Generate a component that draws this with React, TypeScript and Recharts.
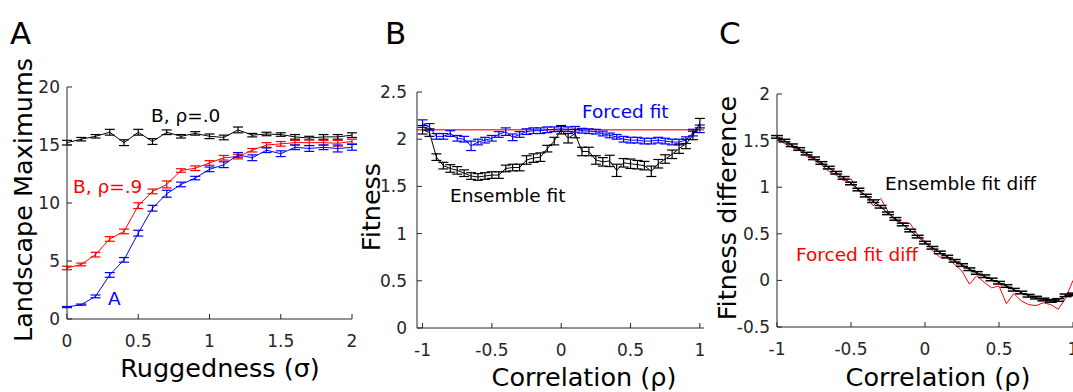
import React from 'react';
import { ComposedChart, Line, XAxis, YAxis, ErrorBar, ReferenceLine } from 'recharts';

const FONT = '"DejaVu Sans", Verdana, sans-serif';
const AXIS = '#262626';
const BLUE = '#0000ff';
const RED = '#ff0000';
const BLACK = '#000000';

// ---------- Panel A ----------
const sigma = [0, 0.1, 0.2, 0.3, 0.4, 0.5, 0.6, 0.7, 0.8, 0.9, 1.0, 1.1, 1.2, 1.3, 1.4, 1.5, 1.6, 1.7, 1.8, 1.9, 2.0];
const bRho0 = [15.2, 15.5, 15.75, 16.1, 15.2, 16.1, 15.3, 16.1, 15.75, 16.0, 15.75, 15.65, 16.3, 15.85, 15.95, 15.9, 15.7, 15.6, 15.7, 15.7, 15.85];
const bRho0Err = [0.2, 0.15, 0.15, 0.25, 0.25, 0.25, 0.25, 0.2, 0.15, 0.15, 0.2, 0.2, 0.25, 0.15, 0.15, 0.15, 0.2, 0.15, 0.2, 0.2, 0.2];
const bRho9 = [4.4, 4.7, 5.55, 6.9, 7.55, 9.77, 11.0, 11.6, 12.8, 13.0, 13.45, 13.9, 14.0, 14.55, 15.0, 15.1, 15.2, 15.2, 15.2, 15.15, 15.3];
const bRho9Err = [0.15, 0.12, 0.2, 0.2, 0.2, 0.25, 0.2, 0.3, 0.15, 0.2, 0.2, 0.2, 0.2, 0.15, 0.2, 0.2, 0.2, 0.25, 0.2, 0.25, 0.2];
const modelA = [1.03, 1.24, 1.95, 3.8, 5.1, 7.4, 9.55, 10.8, 11.6, 12.15, 12.9, 13.3, 14.15, 13.9, 14.55, 14.25, 14.8, 14.7, 14.8, 14.7, 14.8];
const modelAErr = [0.05, 0.05, 0.12, 0.2, 0.2, 0.25, 0.25, 0.3, 0.2, 0.15, 0.2, 0.25, 0.2, 0.25, 0.2, 0.25, 0.2, 0.25, 0.2, 0.3, 0.25];
const ticksA_x = [0, 0.5, 1, 1.5, 2];
const ticksA_y = [0, 5, 10, 15, 20];

// ---------- Panel B & C (shared x) ----------
const rho = [-1, -0.95, -0.9, -0.85, -0.8, -0.75, -0.7, -0.65, -0.6, -0.55, -0.5, -0.45, -0.4, -0.35, -0.3, -0.25, -0.2, -0.15, -0.1, -0.05,
  0, 0.05, 0.1, 0.15, 0.2, 0.25, 0.3, 0.35, 0.4, 0.45, 0.5, 0.55, 0.6, 0.65, 0.7, 0.75, 0.8, 0.85, 0.9, 0.95, 1];

const forcedFit = [2.165, 2.13, 2.03, 2.03, 2.06, 2.01, 2.0, 1.93, 1.97, 1.99, 2.01, 2.05, 2.08, 2.02, 2.05, 2.08, 2.09, 2.09, 2.1, 2.105,
  2.11, 2.105, 2.105, 2.09, 2.085, 2.08, 2.06, 2.04, 2.025, 2.0, 1.99, 1.99, 1.98, 1.98, 1.99, 1.98, 1.97, 1.97, 1.99, 2.07, 2.11];
const forcedFitErr = [0.04, 0.035, 0.03, 0.03, 0.03, 0.03, 0.03, 0.05, 0.03, 0.03, 0.03, 0.03, 0.04, 0.035, 0.03, 0.03, 0.03, 0.03, 0.03, 0.025,
  0.025, 0.025, 0.03, 0.025, 0.025, 0.025, 0.025, 0.025, 0.025, 0.03, 0.03, 0.03, 0.03, 0.03, 0.03, 0.03, 0.03, 0.03, 0.035, 0.035, 0.04];
const ensembleFit = [2.1, 2.07, 1.81, 1.72, 1.69, 1.67, 1.64, 1.61, 1.6, 1.61, 1.62, 1.62, 1.69, 1.7, 1.7, 1.78, 1.8, 1.81, 1.9, 1.98,
  2.1, 2.01, 2.06, 1.87, 1.87, 1.78, 1.76, 1.77, 1.67, 1.75, 1.74, 1.73, 1.72, 1.66, 1.74, 1.79, 1.84, 1.9, 1.95, 2.04, 2.17];
const ensembleFitErr = [0.045, 0.04, 0.035, 0.035, 0.04, 0.04, 0.035, 0.035, 0.035, 0.035, 0.035, 0.035, 0.035, 0.035, 0.035, 0.045, 0.045, 0.045, 0.035, 0.04,
  0.045, 0.05, 0.045, 0.045, 0.045, 0.045, 0.045, 0.06, 0.065, 0.045, 0.05, 0.045, 0.045, 0.055, 0.045, 0.045, 0.045, 0.05, 0.05, 0.045, 0.05];
const fullFit = 2.1;
const ticksB_x = [-1, -0.5, 0, 0.5, 1];
const ticksB_y = [0, 0.5, 1, 1.5, 2, 2.5];

const ensembleDiff = [1.54, 1.5, 1.45, 1.41, 1.36, 1.31, 1.26, 1.21, 1.155, 1.1, 1.04, 0.975, 0.91, 0.85, 0.79, 0.72, 0.66, 0.6, 0.535, 0.47,
  0.405, 0.35, 0.3, 0.255, 0.21, 0.165, 0.12, 0.08, 0.045, 0.01, -0.025, -0.06, -0.1, -0.13, -0.165, -0.185, -0.205, -0.22, -0.21, -0.16, -0.15];
const ensembleDiffErr = [0.014, 0.014, 0.014, 0.014, 0.014, 0.014, 0.014, 0.014, 0.014, 0.014, 0.014, 0.014, 0.014, 0.014, 0.014, 0.014, 0.014, 0.014, 0.014, 0.014,
  0.014, 0.014, 0.014, 0.014, 0.014, 0.014, 0.014, 0.014, 0.014, 0.014, 0.014, 0.014, 0.014, 0.014, 0.014, 0.014, 0.014, 0.014, 0.014, 0.014, 0.014];
const forcedDiff = [1.52, 1.47, 1.43, 1.4, 1.33, 1.3, 1.24, 1.17, 1.13, 1.07, 1.09, 0.96, 0.91, 0.8, 0.88, 0.74, 0.64, 0.62, 0.61, 0.49,
  0.42, 0.32, 0.25, 0.25, 0.17, 0.1, -0.04, 0.05, -0.02, -0.08, -0.06, -0.25, -0.14, -0.22, -0.26, -0.27, -0.24, -0.26, -0.31, -0.19, 0.0];
const ticksC_y = [-0.5, 0, 0.5, 1, 1.5, 2];

const dataA = sigma.map((s, i) => ({ s, b0: bRho0[i], b0e: bRho0Err[i], b9: bRho9[i], b9e: bRho9Err[i], a: modelA[i], ae: modelAErr[i] }));
const dataB = rho.map((r, i) => ({ r, ff: forcedFit[i], ffe: forcedFitErr[i], ef: ensembleFit[i], efe: ensembleFitErr[i] }));
const dataC = rho.map((r, i) => ({ r, ed: ensembleDiff[i], ede: ensembleDiffErr[i], fd: forcedDiff[i] }));

const tickStyle = { fill: AXIS, fontSize: 17, fontFamily: FONT };
const lineStyle = { stroke: AXIS, strokeWidth: 1 };

function PanelA() {
  return (
    <ComposedChart width={370} height={392} data={dataA} margin={{ top: 87, left: 27, right: 18, bottom: 43 }}>
      <XAxis dataKey="s" type="number" domain={[0, 2]} ticks={ticksA_x} height={30} tickSize={-5} tickMargin={21}
        axisLine={lineStyle} tickLine={lineStyle} tick={tickStyle} allowDataOverflow interval={0} />
      <XAxis xAxisId="top" orientation="top" type="number" domain={[0, 2]} ticks={ticksA_x} height={0} tickSize={-5}
        axisLine={lineStyle} tickLine={lineStyle} tickFormatter={() => ''} allowDataOverflow interval={0} />
      <YAxis type="number" domain={[0, 20]} ticks={ticksA_y} width={40} tickSize={-5} tickMargin={12}
        axisLine={lineStyle} tickLine={lineStyle} tick={tickStyle} allowDataOverflow interval={0} />
      <YAxis yAxisId="right" orientation="right" type="number" domain={[0, 20]} ticks={ticksA_y} width={0} tickSize={-5}
        axisLine={lineStyle} tickLine={lineStyle} tickFormatter={() => ''} allowDataOverflow interval={0} />
      <Line dataKey="b0" stroke={BLACK} strokeWidth={1} dot={false} isAnimationActive={false}>
        <ErrorBar dataKey="b0e" width={5} stroke={BLACK} strokeWidth={1.2} isAnimationActive={false} />
      </Line>
      <Line dataKey="b9" stroke={RED} strokeWidth={1} dot={false} isAnimationActive={false}>
        <ErrorBar dataKey="b9e" width={5} stroke={RED} strokeWidth={1.2} isAnimationActive={false} />
      </Line>
      <Line dataKey="a" stroke={BLUE} strokeWidth={1} dot={false} isAnimationActive={false}>
        <ErrorBar dataKey="ae" width={5} stroke={BLUE} strokeWidth={1.2} isAnimationActive={false} />
      </Line>
    </ComposedChart>
  );
}

function PanelB() {
  const dom = [-1.04, 1.03];
  return (
    <ComposedChart width={350} height={392} data={dataB} margin={{ top: 92, left: 7, right: 16, bottom: 34 }}>
      <XAxis dataKey="r" type="number" domain={dom} ticks={ticksB_x} height={30} tickSize={-5} tickMargin={21}
        axisLine={lineStyle} tickLine={lineStyle} tick={tickStyle} allowDataOverflow interval={0} />
      <XAxis xAxisId="top" orientation="top" type="number" domain={dom} ticks={ticksB_x} height={0} tickSize={-5}
        axisLine={lineStyle} tickLine={lineStyle} tickFormatter={() => ''} allowDataOverflow interval={0} />
      <YAxis type="number" domain={[0, 2.5]} ticks={ticksB_y} width={40} tickSize={-5} tickMargin={15}
        axisLine={lineStyle} tickLine={lineStyle} tick={tickStyle} allowDataOverflow interval={0} />
      <YAxis yAxisId="right" orientation="right" type="number" domain={[0, 2.5]} ticks={ticksB_y} width={0} tickSize={-5}
        axisLine={lineStyle} tickLine={lineStyle} tickFormatter={() => ''} allowDataOverflow interval={0} />
      <ReferenceLine y={fullFit} stroke={RED} strokeOpacity={0.75} strokeWidth={1.3} />
      <Line dataKey="ff" stroke={BLUE} strokeWidth={1} dot={false} isAnimationActive={false}>
        <ErrorBar dataKey="ffe" width={5} stroke={BLUE} strokeWidth={1.2} isAnimationActive={false} />
      </Line>
      <Line dataKey="ef" stroke={BLACK} strokeWidth={1} dot={false} isAnimationActive={false}>
        <ErrorBar dataKey="efe" width={5} stroke={BLACK} strokeWidth={1.2} isAnimationActive={false} />
      </Line>
    </ComposedChart>
  );
}

function PanelC() {
  const dom = [-1, 1];
  return (
    <ComposedChart width={380} height={392} data={dataC} margin={{ top: 94, left: 37, right: 7, bottom: 35 }}>
      <XAxis dataKey="r" type="number" domain={dom} ticks={ticksB_x} height={30} tickSize={-5} tickMargin={21}
        axisLine={lineStyle} tickLine={lineStyle} tick={tickStyle} allowDataOverflow interval={0} />
      <XAxis xAxisId="top" orientation="top" type="number" domain={dom} ticks={ticksB_x} height={0} tickSize={-5}
        axisLine={lineStyle} tickLine={lineStyle} tickFormatter={() => ''} allowDataOverflow interval={0} />
      <YAxis type="number" domain={[-0.5, 2]} ticks={ticksC_y} width={40} tickSize={-5} tickMargin={12}
        axisLine={lineStyle} tickLine={lineStyle} tick={tickStyle} allowDataOverflow interval={0} />
      <YAxis yAxisId="right" orientation="right" type="number" domain={[-0.5, 2]} ticks={ticksC_y} width={0} tickSize={-5}
        axisLine={lineStyle} tickLine={lineStyle} tickFormatter={() => ''} allowDataOverflow interval={0} />
      <Line dataKey="fd" stroke={RED} strokeWidth={1} dot={false} isAnimationActive={false} />
      <Line dataKey="ed" stroke={BLACK} strokeWidth={1} dot={false} isAnimationActive={false}>
        <ErrorBar dataKey="ede" width={6} stroke={BLACK} strokeWidth={1.5} isAnimationActive={false} />
      </Line>
    </ComposedChart>
  );
}

export default function App() {
  const t = { fontFamily: FONT };
  return (
    <div style={{ position: 'absolute', left: 0, top: 0, width: 1073, height: 392, overflow: 'hidden', background: '#fff' }}>
      <div style={{ position: 'absolute', left: 0, top: 0 }}><PanelA /></div>
      <div style={{ position: 'absolute', left: 370, top: 0 }}><PanelB /></div>
      <div style={{ position: 'absolute', left: 700, top: 0 }}><PanelC /></div>
      <svg width={1073} height={392} style={{ position: 'absolute', left: 0, top: 0, pointerEvents: 'none' }}>
        <g style={t}>
          <text x={10} y={44} fontSize={31} fill="#000">A</text>
          <text x={385} y={44} fontSize={31} fill="#000">B</text>
          <text x={719} y={44} fontSize={31} fill="#000">C</text>

          <text transform="translate(32,200) rotate(-90)" textAnchor="middle" fontSize={25.5} fill="#000">Landscape Maximums</text>
          <text transform="translate(380,207) rotate(-90)" textAnchor="middle" fontSize={25.5} fill="#000">Fitness</text>
          <text transform="translate(736,208) rotate(-90)" textAnchor="middle" fontSize={25.5} fill="#000">Fitness difference</text>

          <text x={220} y={377} textAnchor="middle" fontSize={25.5} fill="#000">Ruggedness (σ)</text>
          <text x={584} y={386} textAnchor="middle" fontSize={25.5} fill="#000">Correlation (ρ)</text>
          <text x={938} y={386} textAnchor="middle" fontSize={25.5} fill="#000">Correlation (ρ)</text>

          <text x={151} y={122} fontSize={18.5} fill={BLACK}>B, ρ=.0</text>
          <text x={73} y={193} fontSize={18.5} fill={RED}>B, ρ=.9</text>
          <text x={108} y={305} fontSize={18.5} fill={BLUE}>A</text>

          <text x={582} y={118} fontSize={18.5} fill={BLUE}>Forced fit</text>
          <text x={450} y={202} fontSize={18.5} fill={BLACK}>Ensemble fit</text>

          <text x={885} y={190} fontSize={18.5} fill={BLACK}>Ensemble fit diff</text>
          <text x={796} y={261} fontSize={18.5} fill={RED}>Forced fit diff</text>
        </g>
      </svg>
    </div>
  );
}
